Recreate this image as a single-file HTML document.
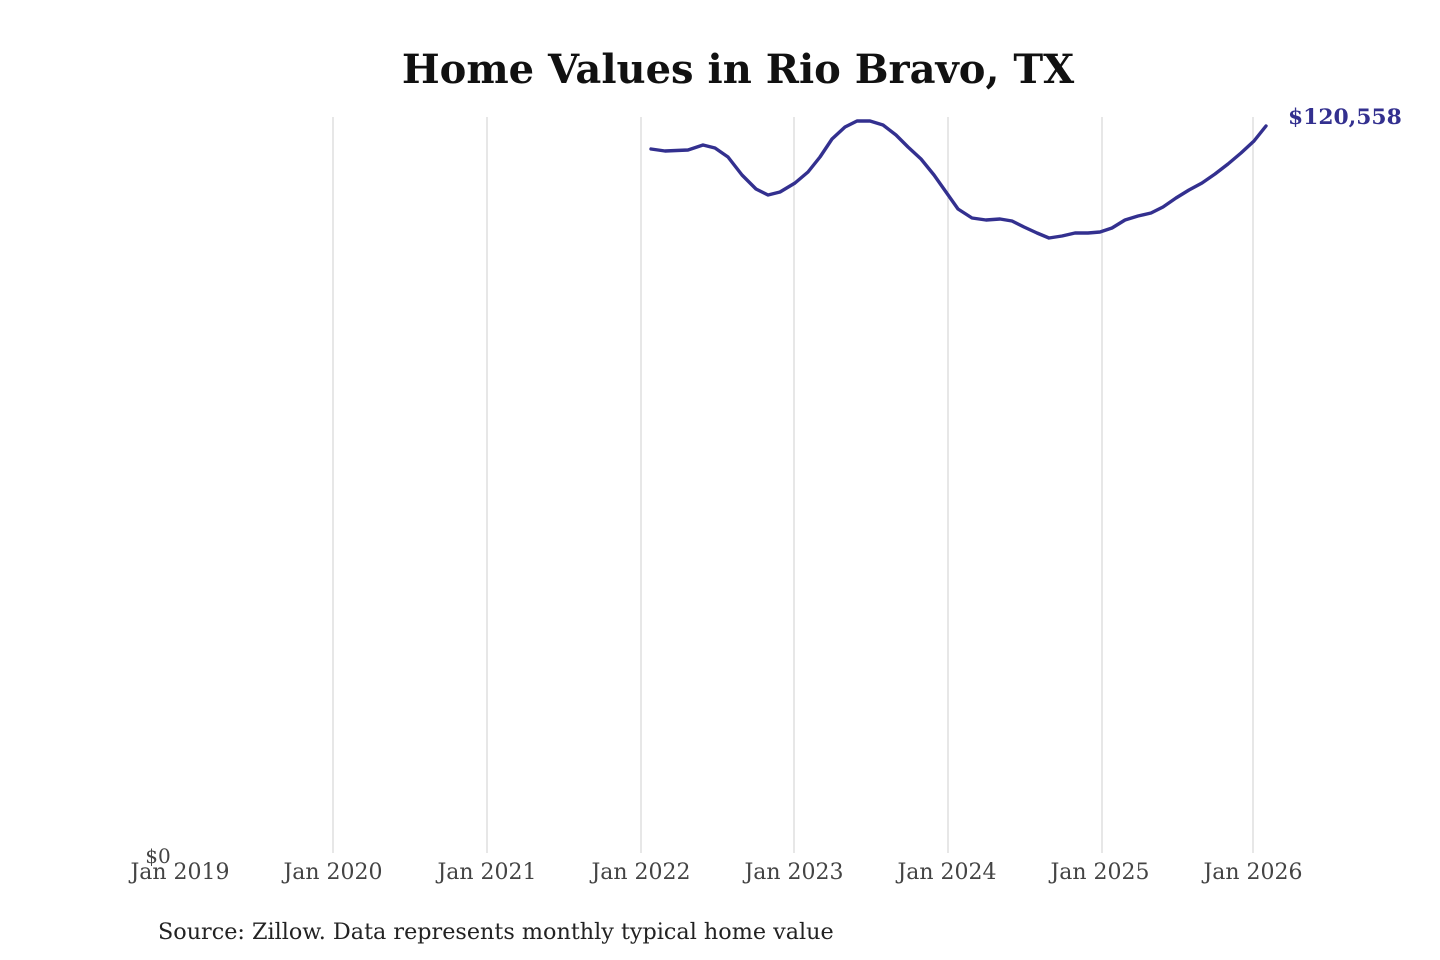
<!DOCTYPE html>
<html><head><meta charset="utf-8"><style>
html,body{margin:0;padding:0;background:#fff;}
svg{display:block;}
</style></head><body>
<svg width="1440" height="960" viewBox="0 0 1440 960" xmlns="http://www.w3.org/2000/svg">
<rect width="1440" height="960" fill="#fff"/>
<text x="738" y="83" text-anchor="middle" font-family="DejaVu Serif, serif" font-weight="bold" font-size="40" fill="#111">Home Values in Rio Bravo, TX</text>
<g stroke="#cfcfcf" stroke-width="1">
<line x1="333" y1="117" x2="333" y2="853"/>
<line x1="487" y1="117" x2="487" y2="853"/>
<line x1="641" y1="117" x2="641" y2="853"/>
<line x1="794" y1="117" x2="794" y2="853"/>
<line x1="948" y1="117" x2="948" y2="853"/>
<line x1="1102" y1="117" x2="1102" y2="853"/>
<line x1="1253" y1="117" x2="1253" y2="853"/>
</g>
<polyline fill="none" stroke="#33308f" stroke-width="3.4" stroke-linejoin="round" stroke-linecap="round" points="651,149 665,151 688,150 703,145 715,148 728,157 742,175 756,189 768,195 780,192 795,183 808,172 820,157 832,139 845,127 857,121 870,121 883,125 896,135 908,147 921,159 934,175 946,192 958,209 972,218 986,220 1000,219 1012,221 1024,227 1037,233 1049,238 1062,236 1075,233 1088,233 1100,232 1112,228 1125,220 1138,216 1151,213 1163,207 1176,198 1189,190 1202,183 1215,174 1228,164 1241,153 1254,141 1266,126"/>
<text x="1288" y="124" font-family="DejaVu Serif, serif" font-weight="bold" font-size="21.8" fill="#33308f">$120,558</text>
<g font-family="DejaVu Serif, serif" font-size="22" fill="#444" text-anchor="middle">
<text x="158" y="863" font-size="20">$0</text>
<text x="180" y="879">Jan 2019</text>
<text x="333" y="879">Jan 2020</text>
<text x="487" y="879">Jan 2021</text>
<text x="641" y="879">Jan 2022</text>
<text x="794" y="879">Jan 2023</text>
<text x="947" y="879">Jan 2024</text>
<text x="1100" y="879">Jan 2025</text>
<text x="1253" y="879">Jan 2026</text>
</g>
<text x="158" y="939" font-family="DejaVu Serif, serif" font-size="22.3" fill="#222">Source: Zillow. Data represents monthly typical home value</text>
</svg>
</body></html>
